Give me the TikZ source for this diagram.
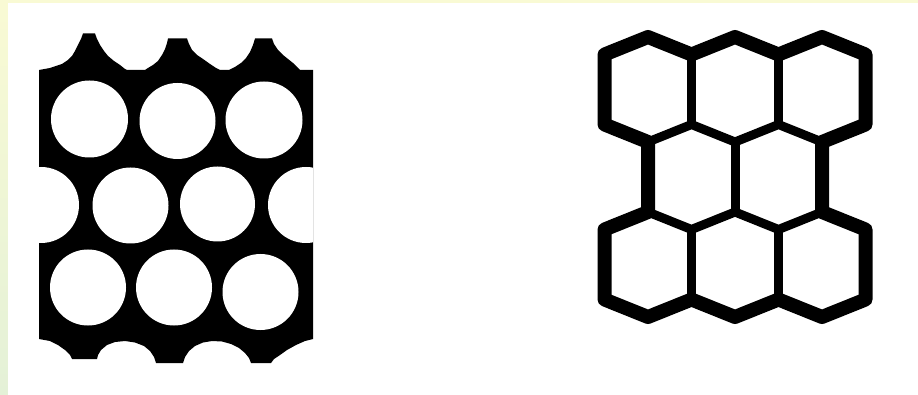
\documentclass[tikz,border=0pt]{standalone}
\definecolor{bgtop}{HTML}{F9FAD4}
\definecolor{bgbot}{HTML}{E4F1D7}
\begin{document}
\begin{tikzpicture}[x=1pt,y=-1pt,
  hexthin/.style={line width=9pt,line join=round,line cap=round},
  hexthick/.style={line width=14pt,line join=round}]
\useasboundingbox (0,0) rectangle (918,395);
% background with coloured margin strips
\shade[top color=bgtop,bottom color=bgbot] (0,0) rectangle (918,395);
\fill[white] (8,3) rectangle (918,395);

% ---------- left figure: packed circles ----------
\fill[black] (39,70) -- (50,68) -- (62,64) -- (68,60) -- (72,56) -- (75,51) -- (78,45) -- (81,39) -- (83,33.5)
  -- (95,33.5) -- (97,39) -- (100,45) -- (104,51) -- (108,56) -- (114,61) -- (120,65) -- (125,69) -- (127,70)
  -- (145,70) -- (148,68) -- (153,65) -- (158,61) -- (162,55) -- (165,49) -- (167,43) -- (168,38.5)
  -- (187,38.5) -- (189,44) -- (192,50) -- (197,55) -- (203,59) -- (210,64) -- (216,68) -- (220,70)
  -- (229,70) -- (235,67) -- (241,63) -- (246,58) -- (250,52) -- (253,45) -- (255,38.5)
  -- (272,38.5) -- (274,44) -- (278,50) -- (283,55) -- (288,59) -- (293,63) -- (297,67) -- (300,70)
  -- (313,70) -- (313,339)
  -- (305,341) -- (296,345) -- (287,350) -- (280,355) -- (274,359) -- (271,363)
  -- (251,363) -- (249,358) -- (245,353) -- (239,348) -- (231,344) -- (222,341.5) -- (212,341)
  -- (203,342.5) -- (195,346) -- (189,351) -- (185,357) -- (183,363)
  -- (156,363) -- (154,357) -- (150,351) -- (144,346) -- (135,342.5) -- (125,341) -- (115,342)
  -- (107,345) -- (101,350) -- (98,355) -- (97,359)
  -- (72,359) -- (70,355) -- (65,350) -- (58,345) -- (50,341) -- (39,339) -- cycle;
\begin{scope}
  \clip (39,0) rectangle (313,395);
  \fill[white] (89.5,119) circle[radius=38.5] (177.5,121) circle[radius=38] (264,120) circle[radius=38.5];
  \fill[white] (41,205) circle[radius=38] (130.5,205.5) circle[radius=38] (217.5,204) circle[radius=37.5] (306,205) circle[radius=38];
  \fill[white] (88,287.5) circle[radius=38] (174,287.5) circle[radius=38] (260.5,292) circle[radius=38];
\end{scope}

% ---------- right figure: honeycomb ----------
\draw[hexthin] (691.5,54.5) -- (691.5,124.5);
\draw[hexthin] (778.5,54.5) -- (778.5,124.5);
\draw[hexthin] (648,142) -- (691.5,124.5) -- (735,142) -- (778.5,124.5) -- (822,142);
\draw[hexthin] (735,142) -- (735,212);
\draw[hexthin] (648,212) -- (691.5,229.5) -- (735,212) -- (778.5,229.5) -- (822,212);
\draw[hexthin] (691.5,229.5) -- (691.5,299.5);
\draw[hexthin] (778.5,229.5) -- (778.5,299.5);
\draw[hexthick] (604.5,54.5) -- (648,37) -- (691.5,54.5) -- (735,37) -- (778.5,54.5) -- (822,37) -- (865.5,54.5)
  -- (865.5,124.5) -- (822,142) -- (822,212) -- (865.5,229.5) -- (865.5,299.5) -- (822,317) -- (778.5,299.5)
  -- (735,317) -- (691.5,299.5) -- (648,317) -- (604.5,299.5) -- (604.5,229.5) -- (648,212) -- (648,142)
  -- (604.5,124.5) -- cycle;
\end{tikzpicture}
\end{document}
